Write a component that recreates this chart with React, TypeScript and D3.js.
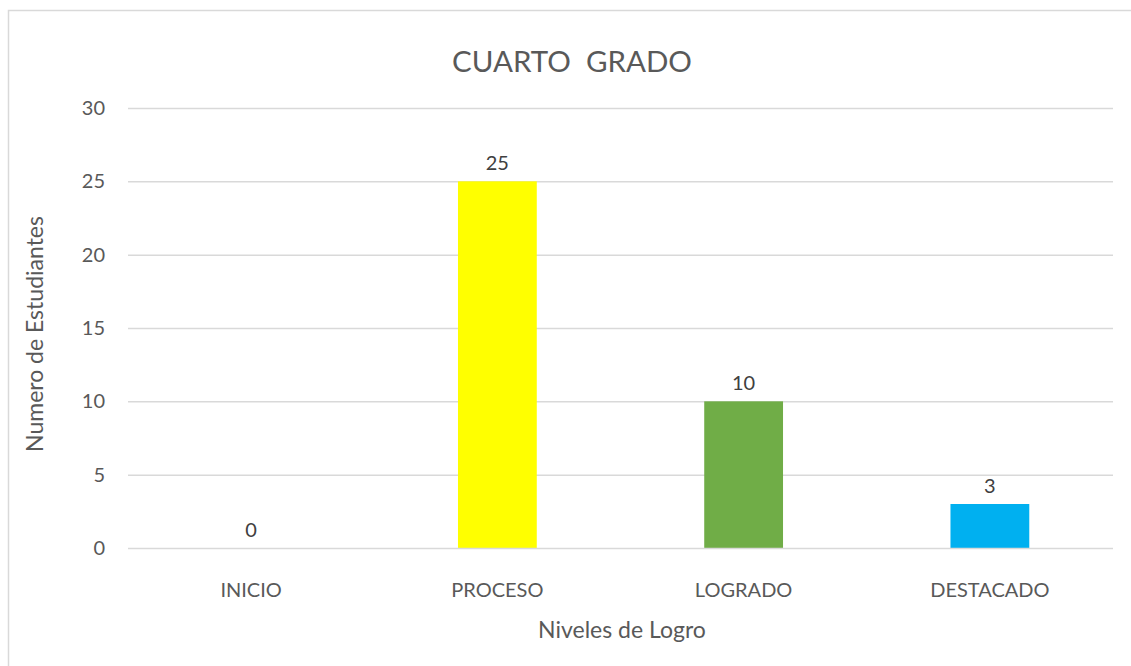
import React, { useEffect, useRef } from 'react';
import * as d3 from 'd3';

const categories = ['INICIO', 'PROCESO', 'LOGRADO', 'DESTACADO'];
const values = [0, 25, 10, 3];
const colors = ['#4472c4', '#ffff00', '#70ad47', '#00b0f0'];
const yTicks = [0, 5, 10, 15, 20, 25, 30];

const FONT = 'Lato, "Open Sans", sans-serif';
const TEXT = '#595959';

const App = () => {
    const ref = useRef<SVGSVGElement>(null);

    useEffect(() => {
        const svg = d3.select(ref.current);
        svg.selectAll('*').remove();
        const width = 1131;
        const height = 666;

        svg.attr('width', width).attr('height', height);

        svg.append('rect')
            .attr('x', 8.5)
            .attr('y', 10.5)
            .attr('width', 1140)
            .attr('height', 700)
            .attr('fill', '#fff')
            .attr('stroke', '#d9d9d9')
            .attr('stroke-width', 1.5);

        const x = d3.scaleBand().domain(categories).range([128, 1113]);
        const y = d3.scaleLinear().domain([0, 30]).range([548, 108]);
        const barW = x.bandwidth() * 0.32;

        const g = svg.append('g');

        // gridlines (under the bars)
        g.selectAll('line.grid')
            .data(yTicks.filter((t) => t > 0))
            .enter()
            .append('line')
            .attr('x1', 128)
            .attr('x2', 1113)
            .attr('y1', (d) => y(d) + 0.5)
            .attr('y2', (d) => y(d) + 0.5)
            .attr('stroke', '#d9d9d9')
            .attr('stroke-width', 1.5);

        // bars
        g.selectAll('rect.bar')
            .data(values)
            .enter()
            .append('rect')
            .attr('class', 'bar')
            .attr('x', (d, i) => x(categories[i])! + (x.bandwidth() - barW) / 2)
            .attr('y', (d) => y(d))
            .attr('width', barW)
            .attr('height', (d) => y(0) - y(d))
            .attr('fill', (d, i) => colors[i]);

        // zero line on top
        g.append('line')
            .attr('x1', 128)
            .attr('x2', 1113)
            .attr('y1', y(0) + 0.5)
            .attr('y2', y(0) + 0.5)
            .attr('stroke', '#d9d9d9')
            .attr('stroke-width', 1.5);

        // y tick labels
        g.selectAll('text.ytick')
            .data(yTicks)
            .enter()
            .append('text')
            .attr('x', 105)
            .attr('y', (d) => y(d))
            .attr('dy', '0.35em')
            .attr('text-anchor', 'end')
            .attr('font-size', 20)
            .attr('font-family', FONT)
            .attr('fill', TEXT)
            .text((d) => d);

        // category labels
        g.selectAll('text.xtick')
            .data(categories)
            .enter()
            .append('text')
            .attr('x', (d) => x(d)! + x.bandwidth() / 2)
            .attr('y', 597)
            .attr('text-anchor', 'middle')
            .attr('font-size', 20)
            .attr('font-family', FONT)
            .attr('fill', TEXT)
            .text((d) => d);

        // data labels
        g.selectAll('text.val')
            .data(values)
            .enter()
            .append('text')
            .attr('x', (d, i) => x(categories[i])! + x.bandwidth() / 2)
            .attr('y', (d) => y(d) - 11)
            .attr('text-anchor', 'middle')
            .attr('font-size', 20)
            .attr('font-family', FONT)
            .attr('fill', '#404040')
            .text((d) => d);

        svg.append('text')
            .attr('x', 572)
            .attr('y', 72)
            .attr('text-anchor', 'middle')
            .attr('font-size', 29.5)
            .attr('font-family', FONT)
            .attr('fill', TEXT)
            .attr('xml:space', 'preserve')
            .text('CUARTO  GRADO');

        svg.append('text')
            .attr('x', 622)
            .attr('y', 638)
            .attr('text-anchor', 'middle')
            .attr('font-size', 23)
            .attr('font-family', FONT)
            .attr('fill', TEXT)
            .text('Niveles de Logro');

        svg.append('text')
            .attr('transform', 'translate(43, 334) rotate(-90)')
            .attr('text-anchor', 'middle')
            .attr('font-size', 23)
            .attr('font-family', FONT)
            .attr('fill', TEXT)
            .text('Numero de Estudiantes');
    }, []);

    return (
        <svg
            ref={ref}
            style={{ position: 'absolute', left: 0, top: 0, display: 'block' }}
        />
    );
};

export default App;
